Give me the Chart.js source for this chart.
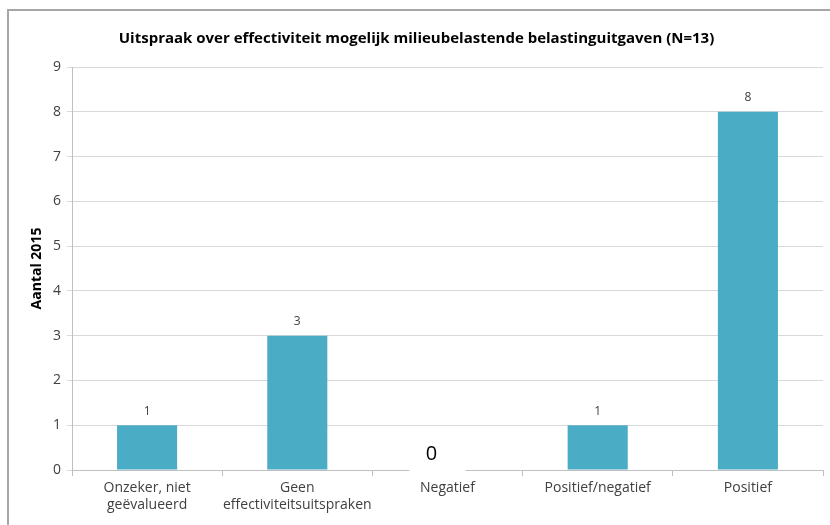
<!DOCTYPE html>
<html>
<head>
<meta charset="utf-8">
<script src="https://cdn.jsdelivr.net/npm/chart.js@4.4.1/dist/chart.umd.min.js"></script>
<style>
  html, body { margin: 0; padding: 0; background: #fff; }
  #wrap { width: 830px; height: 525px; }
</style>
</head>
<body>
<div id="wrap"><canvas id="chart" width="830" height="525"></canvas></div>
<script>
var categories = [
  ['Onzeker, niet', 'geëvalueerd'],
  ['Geen', 'effectiviteitsuitspraken'],
  'Negatief',
  'Positief/negatief',
  'Positief'
];
var counts = [1, 3, 0, 1, 8];
var yTicks = [0, 1, 2, 3, 4, 5, 6, 7, 8, 9];

var font = "'Open Sans', sans-serif";

// outer frame like the pasted Excel chart
var framePlugin = {
  id: 'frame',
  beforeDraw: function(chart) {
    var ctx = chart.ctx;
    ctx.save();
    ctx.fillStyle = '#fff';
    ctx.fillRect(0, 0, chart.width, chart.height);
    ctx.strokeStyle = '#a6a6a6';
    ctx.lineWidth = 2;
    ctx.beginPath();
    ctx.moveTo(8, chart.height + 2);
    ctx.lineTo(8, 10);
    ctx.lineTo(chart.width + 2, 10);
    ctx.stroke();
    ctx.restore();
  }
};

// value labels above bars, the zero one as a separate big text box
var labelPlugin = {
  id: 'valueLabels',
  afterDatasetsDraw: function(chart) {
    var ctx = chart.ctx;
    var meta = chart.getDatasetMeta(0);
    ctx.save();
    ctx.textAlign = 'center';
    meta.data.forEach(function(bar, i) {
      var v = counts[i];
      if (v === 0) {
        ctx.fillStyle = '#fff';
        ctx.fillRect(bar.x - 38, bar.y - 30, 56, 34);
        ctx.fillStyle = '#000';
        ctx.font = "20px " + font;
        ctx.textBaseline = 'middle';
        ctx.fillText(String(v), bar.x - 16, bar.y - 16);
      } else {
        ctx.fillStyle = '#404040';
        ctx.font = "12px " + font;
        ctx.textBaseline = 'bottom';
        ctx.fillText(String(v), bar.x, bar.y - 8);
      }
    });
    ctx.restore();
  }
};

new Chart(document.getElementById('chart'), {
  type: 'bar',
  data: {
    labels: categories,
    datasets: [{
      data: counts,
      backgroundColor: '#4bacc6',
      borderWidth: 0,
      barPercentage: 0.8,
      categoryPercentage: 0.5
    }]
  },
  options: {
    responsive: false,
    animation: false,
    layout: { padding: { left: 10, right: 7, top: 0, bottom: 0 } },
    plugins: {
      legend: { display: false },
      tooltip: { enabled: false },
      title: {
        display: true,
        text: 'Uitspraak over effectiviteit mogelijk milieubelastende belastinguitgaven (N=13)',
        color: '#000',
        font: { family: font, size: 15, weight: 'bold' },
        padding: { top: 30, bottom: 19 }
      }
    },
    scales: {
      x: {
        grid: {
          offset: true,
          drawOnChartArea: false,
          color: '#bfbfbf',
          tickLength: 6
        },
        border: { color: '#bfbfbf' },
        ticks: {
          color: '#404040',
          font: { family: font, size: 14 },
          padding: 4,
          maxRotation: 0,
          autoSkip: false
        },
        afterFit: function(s) { s.height = 55; }
      },
      y: {
        min: 0,
        max: 9,
        afterBuildTicks: function(s) {
          s.ticks = yTicks.map(function(v) { return { value: v }; });
        },
        grid: { color: '#d9d9d9', tickLength: 5 },
        border: { color: '#bfbfbf' },
        ticks: {
          color: '#404040',
          font: { family: font, size: 14 },
          padding: 6
        },
        title: {
          display: true,
          text: 'Aantal 2015',
          color: '#000',
          font: { family: font, size: 14, weight: 'bold' },
          padding: { top: 19, bottom: 4 }
        },
        afterFit: function(s) { s.width = 62; }
      }
    }
  },
  plugins: [framePlugin, labelPlugin]
});
</script>
</body>
</html>
